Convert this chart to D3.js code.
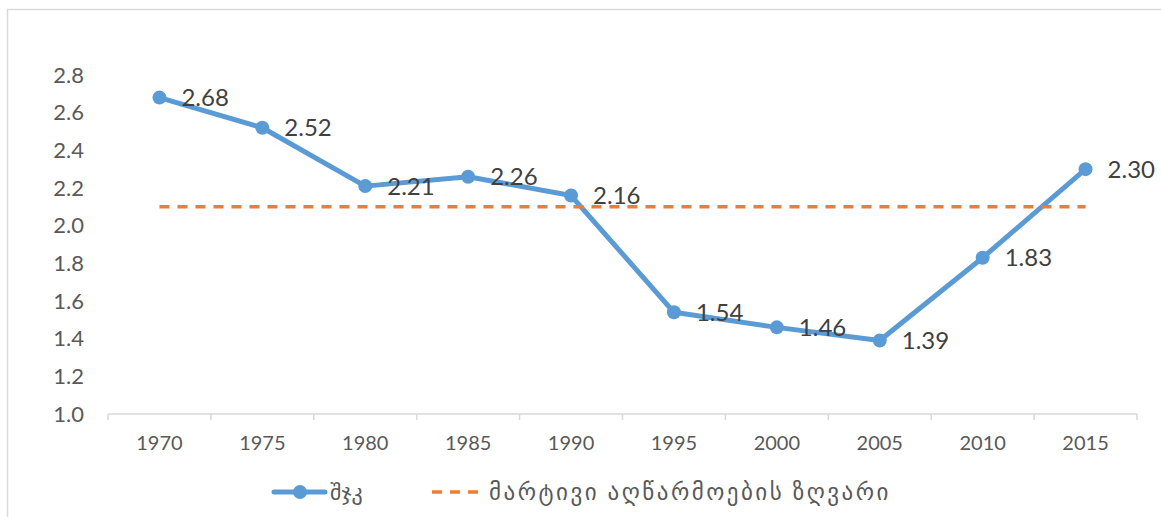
<!DOCTYPE html>
<html>
<head>
<meta charset="utf-8">
<script src="https://cdn.jsdelivr.net/npm/d3@7"></script>
<style>
  body { margin: 0; background: #fff; }
  svg { display: block; }
</style>
</head>
<body>
<svg class="tfr" width="1161" height="517"></svg>
<script>
const years = ['1970', '1975', '1980', '1985', '1990', '1995', '2000', '2005', '2010', '2015'];
const tfrValues = [2.68, 2.52, 2.21, 2.26, 2.16, 1.54, 1.46, 1.39, 1.83, 2.30];
const replacementLevel = [2.1, 2.1, 2.1, 2.1, 2.1, 2.1, 2.1, 2.1, 2.1, 2.1];
const yTicks = [1.0, 1.2, 1.4, 1.6, 1.8, 2.0, 2.2, 2.4, 2.6, 2.8];
const seriesNames = ['შჯკ', 'მარტივი აღწარმოების ზღვარი'];

function drawTfr(){
  const svg = d3.select('svg.tfr');
  const font = "Lato, 'DejaVu Sans', sans-serif";
  const blue = '#5B9BD5';
  const orange = '#ED7D31';

  // chart frame
  svg.append('rect')
    .attr('x', 7.5).attr('y', 9.5)
    .attr('width', 1300).attr('height', 700)
    .style('fill', 'none')
    .style('stroke', '#d9d9d9')
    .style('stroke-width', 1.5);

  const x = d3.scaleBand()
    .domain(years)
    .range([108, 1137]);

  const y = d3.scaleLinear()
    .domain([1.0, 2.8])
    .range([414, 75]);

  const cx = d => x(d) + x.bandwidth() / 2;

  // x axis
  const xAxis = svg.append('g')
    .attr('transform', 'translate(0, 414)');
  xAxis.append('line')
    .attr('x1', 108).attr('x2', 1137)
    .style('stroke', '#d9d9d9').style('stroke-width', 1.5);
  xAxis.selectAll('line.tick')
    .data(d3.range(years.length + 1))
    .enter()
    .append('line')
    .attr('class', 'tick')
    .attr('x1', i => 108 + i * x.step())
    .attr('x2', i => 108 + i * x.step())
    .attr('y1', 0).attr('y2', 6)
    .style('stroke', '#d9d9d9').style('stroke-width', 1.5);
  xAxis.selectAll('text')
    .data(years)
    .enter()
    .append('text')
    .attr('x', d => cx(d))
    .attr('y', 36)
    .text(d => d)
    .style('text-anchor', 'middle')
    .style('font-family', font)
    .style('font-size', '20px')
    .style('fill', '#595959');

  // y labels
  svg.append('g')
    .selectAll('text')
    .data(yTicks)
    .enter()
    .append('text')
    .attr('x', 84)
    .attr('y', d => y(d))
    .attr('dy', '0.35em')
    .text(d => d.toFixed(1))
    .style('text-anchor', 'end')
    .style('font-family', font)
    .style('font-size', '22px')
    .style('fill', '#595959');

  const line = d3.line()
    .x((d, i) => cx(years[i]))
    .y(d => y(d));

  svg.append('path')
    .datum(tfrValues)
    .attr('d', line)
    .style('fill', 'none')
    .style('stroke', blue)
    .style('stroke-width', 5)
    .style('stroke-linejoin', 'round');

  svg.selectAll('circle.pt')
    .data(tfrValues)
    .enter()
    .append('circle')
    .attr('class', 'pt')
    .attr('cx', (d, i) => cx(years[i]))
    .attr('cy', d => y(d))
    .attr('r', 7)
    .style('fill', blue);

  svg.append('path')
    .datum(replacementLevel)
    .attr('d', line)
    .style('fill', 'none')
    .style('stroke', orange)
    .style('stroke-width', 3.5)
    .style('stroke-dasharray', '10 8');

  svg.selectAll('text.lbl')
    .data(tfrValues)
    .enter()
    .append('text')
    .attr('class', 'lbl')
    .attr('x', (d, i) => cx(years[i]) + 22)
    .attr('y', d => y(d))
    .attr('dy', '0.36em')
    .text(d => d.toFixed(2))
    .style('font-family', font)
    .style('font-size', '24px')
    .style('fill', '#404040');

  // legend
  const leg = svg.append('g').attr('transform', 'translate(0, 492)');
  leg.append('line')
    .attr('x1', 274).attr('x2', 325)
    .style('stroke', blue).style('stroke-width', 5).style('stroke-linecap', 'round');
  leg.append('circle')
    .attr('cx', 300).attr('r', 7)
    .style('fill', blue);
  leg.append('text')
    .attr('x', 330).attr('dy', '0.35em')
    .text(seriesNames[0])
    .style('font-family', font).style('font-size', '22px').style('fill', '#595959');
  leg.append('line')
    .attr('x1', 432).attr('x2', 482)
    .style('stroke', orange).style('stroke-width', 3.5).style('stroke-dasharray', '10 8');
  leg.append('text')
    .attr('x', 489).attr('dy', '0.35em')
    .text(seriesNames[1])
    .style('font-family', font).style('font-size', '23px')
    .style('letter-spacing', '2.5px')
    .style('fill', '#595959');
}

drawTfr();
</script>
</body>
</html>
